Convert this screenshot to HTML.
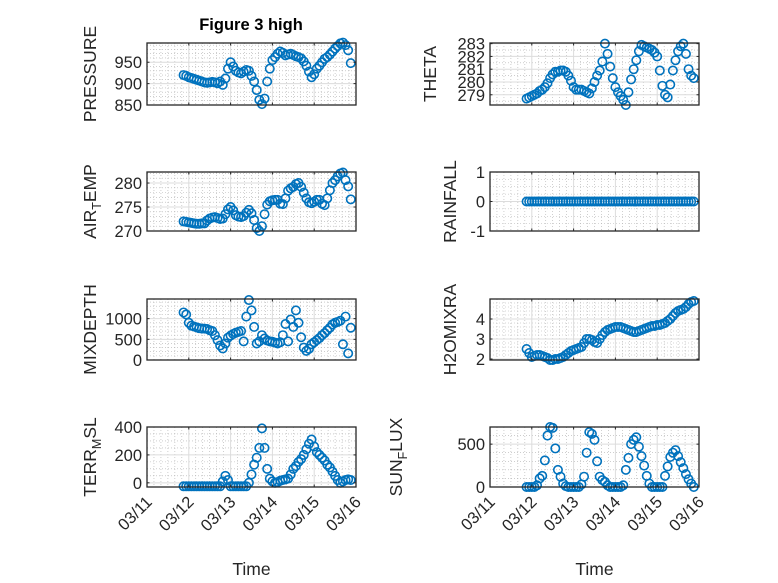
<!DOCTYPE html>
<html><head><meta charset="utf-8"><style>
html,body{margin:0;padding:0;background:#fff;}
svg{display:block;font-family:"Liberation Sans","DejaVu Sans",sans-serif;}
</style></head><body>
<svg id="fig" width="778" height="583" viewBox="0 0 778 583" xmlns="http://www.w3.org/2000/svg">
<rect width="778" height="583" fill="#fff"/>
<text x="251" y="30" text-anchor="middle" font-size="16.5" font-weight="bold" fill="#000">Figure 3 high</text>
</svg>
<script>
const dayLabels = ["03/11","03/12","03/13","03/14","03/15","03/16"];
const pressure = [920,918,915,913,911,909,907,905,903,902,903,904,903,901,905,897,912,935,950,940,930,926,924,928,932,930,918,905,885,862,852,865,905,935,955,962,970,975,972,966,968,970,967,964,962,959,952,942,928,915,922,935,942,950,958,962,968,975,982,988,994,996,990,978,948];
const theta = [278.7,278.8,278.9,279.0,279.1,279.3,279.4,279.6,279.9,280.3,280.6,280.8,280.8,280.9,280.9,280.8,280.5,280.1,279.6,279.4,279.4,279.4,279.3,279.2,279.1,279.5,280.0,280.5,280.9,281.6,283.0,282.2,281.2,280.3,279.6,279.2,278.9,278.6,278.2,279.2,280.2,281.0,281.7,282.4,282.9,282.8,282.7,282.6,282.5,282.3,282.0,280.9,279.7,279.0,278.8,279.8,280.9,281.7,282.4,282.8,283.0,282.2,281.0,280.5,280.3];
const airTemp = [272.0,271.9,271.8,271.7,271.6,271.5,271.5,271.6,271.6,272.2,272.6,272.8,272.9,272.7,272.5,272.6,273.5,274.5,275.0,274.3,273.3,273.0,272.9,273.1,273.8,274.4,273.7,272.3,270.6,270.0,271.0,273.5,275.5,276.2,276.4,276.5,276.5,275.7,275.6,276.8,278.4,278.9,279.2,279.8,280.0,279.2,278.0,276.8,276.0,275.8,276.1,276.5,276.5,275.7,275.4,276.8,278.5,280.0,280.6,281.4,282.0,282.2,280.6,279.3,276.6];
const rainfall = [0,0,0,0,0,0,0,0,0,0,0,0,0,0,0,0,0,0,0,0,0,0,0,0,0,0,0,0,0,0,0,0,0,0,0,0,0,0,0,0,0,0,0,0,0,0,0,0,0,0,0,0,0,0,0,0,0,0,0,0,0,0,0,0,0];
const mixDepth = [1150,1100,900,830,810,790,770,760,760,750,720,700,600,480,350,280,400,540,590,630,660,680,700,450,1050,1450,1200,800,400,450,600,520,470,450,440,420,400,430,600,870,450,980,800,1200,900,550,300,220,270,380,430,480,530,600,650,720,780,860,900,920,950,380,1050,160,780];
const h2oMix = [2.5,2.3,2.1,2.15,2.2,2.2,2.15,2.1,2.05,1.95,1.95,2.0,2.0,2.05,2.1,2.2,2.3,2.4,2.45,2.5,2.55,2.6,2.8,3.0,3.0,2.95,2.85,2.8,3.0,3.2,3.35,3.45,3.5,3.55,3.6,3.6,3.6,3.55,3.5,3.45,3.4,3.35,3.35,3.4,3.45,3.5,3.55,3.6,3.65,3.65,3.7,3.7,3.75,3.8,3.9,4.0,4.15,4.3,4.4,4.45,4.5,4.6,4.75,4.85,4.9];
const terrMsl = [-25,-25,-25,-25,-25,-25,-25,-25,-25,-25,-25,-25,-25,-25,-25,10,50,20,-25,-25,-25,-25,-25,-25,-25,0,60,130,180,250,390,250,100,30,10,0,5,15,20,25,30,60,100,120,150,170,200,240,280,310,260,220,200,180,160,130,110,80,50,20,0,10,20,25,20];
const sunFlux = [0,0,0,0,20,100,130,310,600,700,690,450,200,120,40,10,0,0,0,0,0,30,120,400,640,620,550,300,120,80,60,20,0,0,0,0,0,20,200,340,500,550,580,470,360,250,130,40,0,0,0,0,0,130,240,350,400,430,360,290,220,150,90,40,0];
const startDay = 0.875, stepDay = 0.0625;
const times = [];
for (let i = 0; i < pressure.length; i++) times.push(startDay + i * stepDay);

const panels = [
 {name:"pressure", data:pressure, x:147, y:43, w:209, h:62, ymin:850, ymax:995, ticks:[850,900,950], minor:10, label:["PRESSURE"], lx:96, showX:false},
 {name:"theta", data:theta, x:490, y:43, w:209, h:62, ymin:278.2, ymax:283.05, ticks:[279,280,281,282,283], minor:0.5, label:["THETA"], lx:436, showX:false},
 {name:"air-temp", data:airTemp, x:147, y:172, w:209, h:59, ymin:270, ymax:282.3, ticks:[270,275,280], minor:1, label:["AIR","T","EMP"], lx:96, showX:false},
 {name:"rainfall", data:rainfall, x:490, y:172, w:209, h:59, ymin:-1, ymax:1, ticks:[-1,0,1], minor:0.25, label:["RAINFALL"], lx:456, showX:false},
 {name:"mixdepth", data:mixDepth, x:147, y:299, w:209, h:61, ymin:0, ymax:1475, ticks:[0,500,1000], minor:100, label:["MIXDEPTH"], lx:96, showX:false},
 {name:"h2omixra", data:h2oMix, x:490, y:299, w:209, h:61, ymin:1.95, ymax:5.0, ticks:[2,3,4], minor:0.2, label:["H2OMIXRA"], lx:456, showX:false},
 {name:"terr-msl", data:terrMsl, x:147, y:427, w:209, h:60, ymin:-30, ymax:400, ticks:[0,200,400], minor:50, label:["TERR","M","SL"], lx:96, showX:true},
 {name:"sun-flux", data:sunFlux, x:490, y:427, w:209, h:60, ymin:0, ymax:700, ticks:[0,500], minor:100, label:["SUN","F","LUX"], lx:402, showX:true}
];
const NS = "http://www.w3.org/2000/svg";
const svg = document.getElementById("fig");
function mk(tag, attrs, parent){ const e=document.createElementNS(NS,tag); for(const k in attrs) e.setAttribute(k,attrs[k]); (parent||svg).appendChild(e); return e; }
const blue = "#0072BD", ax = "#262626";
panels.forEach(p=>{
  const g = mk("g",{});
  
  
  const xs = t => p.x + (t/5)*p.w;
  const ys = v => p.y + p.h - (v-p.ymin)/(p.ymax-p.ymin)*p.h;
  for(let t=0;t<=5.0001;t+=1/6){ if(Math.abs(t-Math.round(t))<1e-6) continue;
    mk("line",{x1:xs(t),x2:xs(t),y1:p.y,y2:p.y+p.h,stroke:"#b0b0b0","stroke-width":0.6,"stroke-dasharray":"1,2"},g); }
  for(let v=Math.ceil(p.ymin/p.minor)*p.minor; v<=p.ymax; v+=p.minor){
    if(p.ticks.some(tk=>Math.abs(tk-v)<1e-6)) continue;
    mk("line",{x1:p.x,x2:p.x+p.w,y1:ys(v),y2:ys(v),stroke:"#b0b0b0","stroke-width":0.6,"stroke-dasharray":"1,2"},g); }
  for(let d=1;d<5;d++) mk("line",{x1:xs(d),x2:xs(d),y1:p.y,y2:p.y+p.h,stroke:"#dcdcdc","stroke-width":1},g);
  p.ticks.forEach(v=>{ mk("line",{x1:p.x,x2:p.x+p.w,y1:ys(v),y2:ys(v),stroke:"#dcdcdc","stroke-width":1},g); });
  const sg = mk("g",{fill:"none",stroke:blue,"stroke-width":1.6},g);
  
  
  p.data.forEach((v,i)=>{
    const c = mk("circle",{cx:xs(times[i]).toFixed(2),cy:ys(v).toFixed(2),r:4.2},sg);
    
    
  });
  const box = mk("rect",{x:p.x,y:p.y,width:p.w,height:p.h,fill:"none",stroke:ax,"stroke-width":1.3},g);
  
  
  for(let d=0;d<=5;d++){ mk("line",{x1:xs(d),x2:xs(d),y1:p.y+p.h,y2:p.y+p.h-2.5,stroke:ax},g); mk("line",{x1:xs(d),x2:xs(d),y1:p.y,y2:p.y+2.5,stroke:ax},g); }
  p.ticks.forEach(v=>{
    mk("line",{x1:p.x,x2:p.x+2.5,y1:ys(v),y2:ys(v),stroke:ax},g);
    mk("line",{x1:p.x+p.w,x2:p.x+p.w-2.5,y1:ys(v),y2:ys(v),stroke:ax},g);
    const t = mk("text",{x:p.x-5,y:ys(v)+6,"text-anchor":"end","font-size":16.5,fill:ax},g);
    t.textContent = String(v);
    
    
  });
  if(p.showX){
    dayLabels.forEach((lab,d)=>{
      const tx = xs(d)+6, ty = p.y+p.h+16;
      const t = mk("text",{x:tx,y:ty,"text-anchor":"end","font-size":16.5,fill:ax,transform:`rotate(-45 ${tx} ${ty})`},g);
      t.textContent = lab;
      
      
    });
    const xl = mk("text",{x:p.x+p.w/2,y:575,"text-anchor":"middle","font-size":17.5,fill:ax},g);
    xl.textContent = "Time";
    
    
  }
  const cy = p.y + p.h/2;
  const yl = mk("text",{x:p.lx,y:cy,"text-anchor":"middle","font-size":17.5,fill:ax,transform:`rotate(-90 ${p.lx} ${cy})`},g);
  
  
  if(p.label.length===1){ yl.textContent = p.label[0]; }
  else {
    const a = mk("tspan",{},yl); a.textContent = p.label[0];
    const b = mk("tspan",{dy:5,"font-size":12.5},yl); b.textContent = p.label[1];
    const c = mk("tspan",{dy:-5},yl); c.textContent = p.label[2];
  }
});
</script>
</body></html>
